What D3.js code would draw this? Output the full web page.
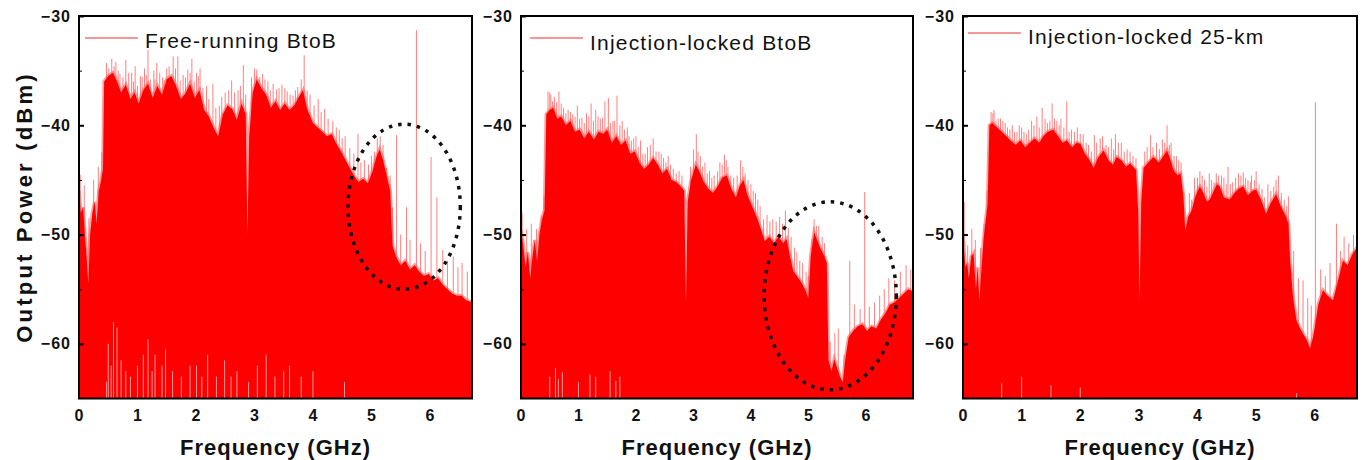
<!DOCTYPE html>
<html>
<head>
<meta charset="utf-8">
<script src="https://cdn.jsdelivr.net/npm/d3@7"></script>
<style>
body { margin: 0; background: #fff; }
text { font-family: "Liberation Sans", Arial, sans-serif; }
</style>
</head>
<body>
<svg id="chart" width="1366" height="460"></svg>
<script>
// legend labels of the three spectra
var seriesNames = ["Free-running BtoB", "Injection-locked BtoB", "Injection-locked 25-km"];

// upper edge of the solid red fill, [GHz, dBm]
var freeEnv = [[0,-46],[0.03,-48],[0.07,-47.5],[0.1,-50],[0.13,-52],[0.16,-54.5],[0.19,-50],[0.23,-48],[0.27,-47],[0.3,-49],[0.34,-46],[0.38,-45],[0.41,-44],[0.43,-36],[0.5,-35.5],[0.58,-35.2],[0.65,-36],[0.72,-37],[0.8,-36.3],[0.88,-37.6],[0.95,-37],[1.02,-38],[1.1,-36.8],[1.18,-36.2],[1.26,-37.5],[1.34,-36.4],[1.42,-37.2],[1.5,-35.8],[1.58,-35.5],[1.66,-36.4],[1.74,-37.6],[1.82,-37.1],[1.9,-36.2],[1.98,-37.5],[2.06,-36.8],[2.14,-38.6],[2.22,-39.2],[2.3,-40.2],[2.38,-41],[2.46,-39],[2.54,-38.2],[2.62,-38.5],[2.7,-39.5],[2.78,-38],[2.85,-39],[2.88,-50],[2.91,-41],[2.97,-37],[3.04,-35.8],[3.12,-36.6],[3.2,-37.2],[3.28,-38.4],[3.36,-37.8],[3.44,-38.6],[3.52,-38],[3.6,-38.6],[3.68,-38.2],[3.76,-37.4],[3.83,-36.8],[3.9,-38.5],[4.0,-39.8],[4.08,-40.2],[4.16,-40.6],[4.24,-41],[4.32,-40.8],[4.4,-41.7],[4.48,-42.4],[4.56,-43.2],[4.63,-43.9],[4.7,-44.6],[4.78,-45.2],[4.86,-44.9],[4.94,-45.3],[5.02,-44.2],[5.08,-43],[5.14,-42.2],[5.2,-43.2],[5.26,-44.6],[5.32,-46],[5.36,-51],[5.42,-52],[5.5,-52.8],[5.58,-52.4],[5.66,-53.2],[5.74,-52.8],[5.82,-53.4],[5.9,-53.8],[5.98,-53.6],[6.06,-54.2],[6.14,-54],[6.22,-54.6],[6.3,-55],[6.38,-55.4],[6.46,-55.6],[6.54,-55.6],[6.62,-56],[6.72,-56.2]];
var lockedEnv = [[0,-49.6],[0.04,-51],[0.08,-53],[0.12,-51.6],[0.16,-54],[0.2,-52],[0.24,-50.5],[0.28,-52.5],[0.32,-50],[0.37,-48.5],[0.41,-47.8],[0.44,-39],[0.5,-38.6],[0.56,-38.4],[0.63,-39.4],[0.7,-39.2],[0.78,-40],[0.86,-39.6],[0.94,-40.6],[1.02,-40.4],[1.1,-41.2],[1.18,-40.6],[1.27,-41.3],[1.35,-40.6],[1.43,-40.8],[1.5,-40.4],[1.58,-41.6],[1.66,-41],[1.74,-41.8],[1.82,-41.4],[1.9,-42.6],[1.98,-42.4],[2.06,-43.4],[2.14,-44],[2.22,-43.6],[2.3,-43],[2.38,-43.6],[2.46,-44.4],[2.54,-44],[2.62,-45],[2.7,-45.2],[2.78,-45.6],[2.84,-46],[2.87,-56.3],[2.9,-47],[2.96,-45],[3.04,-43.6],[3.1,-44.2],[3.18,-45.2],[3.26,-45.8],[3.34,-46.2],[3.42,-45.6],[3.5,-44.8],[3.58,-44.6],[3.66,-45.8],[3.74,-46.6],[3.8,-45.6],[3.87,-45],[3.94,-46.4],[4.02,-47.4],[4.1,-48.4],[4.18,-49.6],[4.24,-50.6],[4.32,-50.2],[4.4,-50.8],[4.48,-50.2],[4.56,-50.8],[4.62,-50.4],[4.68,-52],[4.74,-53.4],[4.8,-53.8],[4.88,-54.4],[4.94,-55],[5.0,-55.8],[5.04,-52],[5.1,-49.8],[5.16,-50.6],[5.22,-51.4],[5.28,-52],[5.32,-52.6],[5.35,-61.5],[5.4,-62.5],[5.45,-61.4],[5.5,-62.2],[5.55,-63],[5.6,-63.5],[5.64,-61.5],[5.7,-59.4],[5.78,-58.8],[5.86,-58.4],[5.94,-58.2],[6.02,-58.8],[6.1,-58.4],[6.18,-58.6],[6.26,-57.8],[6.34,-57.2],[6.42,-56.4],[6.5,-56.2],[6.58,-55.8],[6.66,-55.4],[6.74,-55],[6.82,-55.2]];
var fiberEnv = [[0,-50.2],[0.04,-53],[0.07,-52.6],[0.1,-54],[0.14,-52],[0.18,-51.7],[0.22,-55],[0.25,-53],[0.28,-56],[0.31,-53.5],[0.35,-50.5],[0.38,-49],[0.42,-47.2],[0.45,-40],[0.5,-39.8],[0.58,-40.2],[0.66,-40.6],[0.74,-41],[0.81,-41.4],[0.9,-41.8],[0.98,-41.4],[1.06,-42],[1.14,-41.6],[1.22,-41.2],[1.3,-41.6],[1.37,-41],[1.45,-40.6],[1.54,-40.4],[1.62,-41],[1.7,-41.6],[1.77,-41.4],[1.86,-42],[1.94,-41.6],[2.0,-41.7],[2.08,-42.6],[2.16,-43.2],[2.23,-43.9],[2.3,-43],[2.4,-42.3],[2.48,-43.2],[2.56,-43.6],[2.62,-42.9],[2.7,-43.2],[2.78,-43.8],[2.85,-43.5],[2.95,-44.1],[2.99,-48],[3.01,-56],[3.04,-47],[3.08,-43.9],[3.16,-43.4],[3.25,-42.9],[3.34,-43.4],[3.42,-42.8],[3.48,-42.3],[3.54,-43.2],[3.59,-44.1],[3.66,-44.6],[3.71,-44.4],[3.76,-46.5],[3.79,-49.6],[3.84,-48.4],[3.9,-47.8],[3.97,-46.4],[4.04,-45.6],[4.1,-46.2],[4.16,-47],[4.21,-46.8],[4.28,-46],[4.33,-45.4],[4.38,-45.6],[4.45,-46.6],[4.55,-46.8],[4.63,-46.2],[4.7,-45.8],[4.78,-45.6],[4.86,-46.4],[4.94,-46],[5.0,-45.9],[5.08,-46.8],[5.17,-48.1],[5.24,-47.2],[5.34,-46.3],[5.42,-47.4],[5.51,-48.4],[5.55,-49],[5.58,-52.4],[5.63,-55.8],[5.69,-57.9],[5.75,-58.6],[5.8,-59.1],[5.86,-59.6],[5.92,-60.4],[5.97,-59.4],[6.0,-58.5],[6.06,-56.4],[6.14,-55.1],[6.22,-55.6],[6.31,-56],[6.38,-54.6],[6.48,-52.4],[6.56,-52.8],[6.64,-51.8],[6.72,-51.2]];

// thin peaks standing above the fill, [GHz, dBm]
var freeSpikes = [[0.02,-44.5],[0.09,-45.5],[0.17,-48.5],[0.25,-45],[0.33,-43.8],[0.39,-42.5],[0.47,-34.3],[0.51,-34.8],[0.56,-33.9],[0.6,-34.6],[0.63,-34.2],[0.67,-35],[0.7,-35.3],[0.75,-35.6],[0.8,-34],[0.85,-35.2],[0.9,-35.2],[0.93,-36],[0.96,-34.6],[1.0,-36.4],[1.05,-35.5],[1.08,-35.6],[1.12,-34.8],[1.15,-35.4],[1.18,-33.1],[1.22,-35.8],[1.28,-35],[1.3,-35.8],[1.33,-34.3],[1.38,-35.2],[1.43,-35.6],[1.46,-35.9],[1.5,-34.8],[1.54,-34.6],[1.61,-33.7],[1.65,-34.8],[1.69,-33.7],[1.73,-35.9],[1.78,-35.4],[1.82,-35.6],[1.86,-34.9],[1.9,-35.2],[1.93,-33.9],[1.97,-36],[2.01,-35.2],[2.04,-35.5],[2.07,-34.8],[2.12,-36.6],[2.18,-36.4],[2.22,-37.6],[2.29,-36.2],[2.34,-38.4],[2.4,-38.2],[2.44,-37.4],[2.5,-37],[2.56,-36.8],[2.61,-35.9],[2.66,-37],[2.72,-36.8],[2.76,-36.4],[2.81,-34.5],[2.85,-37.2],[2.95,-35.6],[3.0,-34.8],[3.04,-34.9],[3.09,-35.6],[3.14,-35.3],[3.18,-35.8],[3.23,-36],[3.27,-36.8],[3.32,-36.2],[3.38,-36.7],[3.42,-36.6],[3.47,-36.3],[3.52,-36.6],[3.56,-36.9],[3.61,-37.2],[3.66,-37.3],[3.7,-36.8],[3.74,-36.5],[3.8,-35.8],[3.85,-33.6],[3.9,-36.8],[3.95,-37.2],[4.02,-38.2],[4.09,-37.6],[4.14,-38.8],[4.2,-38.5],[4.26,-39.4],[4.34,-39.6],[4.4,-40.2],[4.45,-40.4],[4.5,-41.2],[4.55,-41],[4.63,-42.1],[4.7,-42.6],[4.77,-40.8],[4.82,-43.4],[4.88,-43.2],[4.95,-43.6],[5.0,-42.8],[5.05,-42.4],[5.1,-41.2],[5.15,-41],[5.2,-41.8],[5.26,-43.9],[5.32,-44.6],[5.36,-47.5],[5.43,-40.9],[5.5,-50],[5.6,-47.5],[5.66,-50.5],[5.77,-31.3],[5.84,-50.8],[5.92,-51.5],[6.02,-42.9],[6.12,-46.6],[6.22,-51.4],[6.3,-52.4],[6.4,-52],[6.48,-53],[6.55,-52.6],[6.64,-53.4]];
var lockedSpikes = [[0.02,-48],[0.1,-49.5],[0.18,-49],[0.27,-49.5],[0.35,-48.2],[0.4,-46.5],[0.47,-36.9],[0.5,-37],[0.52,-37.2],[0.55,-37.8],[0.58,-37.4],[0.62,-37.9],[0.66,-36.9],[0.7,-38],[0.74,-38.4],[0.78,-38.9],[0.82,-38.6],[0.86,-38.8],[0.9,-39],[0.94,-39.2],[0.98,-38.2],[1.02,-39.4],[1.06,-39.3],[1.1,-39.8],[1.14,-38.9],[1.18,-39.2],[1.22,-38],[1.26,-39.6],[1.3,-38.6],[1.34,-39.2],[1.38,-39.4],[1.42,-39.3],[1.46,-37.8],[1.52,-37.5],[1.56,-39.8],[1.6,-39.6],[1.63,-39.6],[1.67,-37.3],[1.72,-40],[1.76,-39.6],[1.8,-40.4],[1.85,-40.2],[1.88,-41],[1.92,-41.4],[1.96,-41.2],[2.0,-41],[2.04,-42],[2.08,-41.4],[2.12,-42.6],[2.16,-42.6],[2.2,-42],[2.25,-41.8],[2.3,-41.2],[2.35,-42.4],[2.4,-42.4],[2.44,-42.6],[2.48,-43],[2.52,-43.4],[2.56,-42.8],[2.6,-43.6],[2.65,-44],[2.7,-44.4],[2.75,-44.2],[2.8,-44.6],[2.95,-43.8],[3.0,-42.2],[3.05,-40.8],[3.08,-42.4],[3.12,-42.8],[3.16,-43.8],[3.2,-43.4],[3.24,-44.4],[3.28,-44.2],[3.32,-44.8],[3.36,-44.6],[3.42,-44.2],[3.46,-43.4],[3.5,-43.6],[3.54,-42.7],[3.57,-43.2],[3.6,-43.8],[3.65,-44.6],[3.7,-44.8],[3.76,-44.6],[3.82,-43.2],[3.86,-43.8],[3.9,-44.4],[3.95,-45],[4.0,-45.4],[4.04,-46],[4.08,-46.2],[4.12,-46.8],[4.16,-47.4],[4.22,-48.6],[4.28,-48.2],[4.33,-48.8],[4.38,-48.6],[4.44,-48.8],[4.5,-48.4],[4.55,-49],[4.6,-47.8],[4.65,-49.4],[4.7,-50.2],[4.76,-51.2],[4.8,-51.6],[4.85,-52.4],[4.9,-52.6],[4.96,-53.4],[5.0,-53.8],[5.06,-50.4],[5.1,-48.6],[5.14,-49.2],[5.18,-49.2],[5.24,-50.2],[5.28,-50.8],[5.38,-59.8],[5.46,-59],[5.52,-58.6],[5.62,-61],[5.72,-52.4],[5.8,-56.4],[5.9,-56.8],[5.98,-46.1],[6.06,-56.6],[6.15,-56.2],[6.24,-55.6],[6.32,-55],[6.4,-54],[6.5,-54.2],[6.6,-53.4],[6.7,-52.8],[6.78,-53.2]];
var fiberSpikes = [[0.02,-47],[0.08,-51],[0.15,-49.5],[0.21,-50.5],[0.3,-51.2],[0.36,-49],[0.41,-46],[0.48,-38.8],[0.51,-38.9],[0.53,-38.6],[0.56,-39.6],[0.6,-39.4],[0.64,-39.4],[0.68,-39.6],[0.72,-39.8],[0.76,-40.2],[0.8,-40.4],[0.84,-40],[0.88,-40.6],[0.92,-40.6],[0.96,-40],[1.0,-40.2],[1.04,-40.6],[1.08,-40.8],[1.12,-40.4],[1.17,-39.6],[1.21,-40],[1.26,-39.2],[1.3,-40.2],[1.35,-38.4],[1.4,-39.4],[1.44,-39.8],[1.48,-39.6],[1.52,-38],[1.56,-39.4],[1.6,-39.6],[1.64,-40],[1.67,-39.4],[1.72,-40.2],[1.77,-37.8],[1.81,-40.6],[1.85,-40.4],[1.9,-40.6],[1.95,-40.2],[2.0,-40.8],[2.05,-40.8],[2.1,-41.6],[2.14,-41.8],[2.19,-42.4],[2.24,-40.9],[2.28,-41.6],[2.34,-41.2],[2.38,-41],[2.44,-41.8],[2.48,-42],[2.53,-41.2],[2.57,-42.2],[2.6,-40.8],[2.65,-41.6],[2.7,-41.6],[2.75,-42.4],[2.8,-42.2],[2.85,-42.4],[2.9,-42.8],[2.95,-43],[3.1,-42.4],[3.14,-42],[3.2,-40.9],[3.24,-42],[3.3,-41.6],[3.35,-42.2],[3.4,-41.3],[3.44,-41.6],[3.48,-40],[3.52,-41.8],[3.55,-41.6],[3.6,-42.8],[3.64,-42.8],[3.68,-43.2],[3.72,-43.4],[3.86,-46.2],[3.9,-46.8],[3.95,-44.8],[4.0,-44.8],[4.04,-44.2],[4.08,-44.6],[4.12,-45],[4.16,-45.6],[4.2,-44.4],[4.24,-45],[4.28,-45.2],[4.32,-44.4],[4.36,-44.6],[4.41,-44.6],[4.45,-44.8],[4.49,-45.4],[4.52,-43.8],[4.56,-45.4],[4.6,-45.2],[4.65,-44.8],[4.7,-44.4],[4.74,-44.6],[4.78,-44.3],[4.82,-44.8],[4.86,-45],[4.9,-45.2],[4.92,-44.6],[4.97,-45],[5.0,-44.2],[5.05,-45.4],[5.1,-45.8],[5.14,-46.6],[5.2,-45.4],[5.25,-46],[5.3,-45.6],[5.34,-45],[5.38,-44.6],[5.43,-46.2],[5.48,-46.8],[5.52,-47.4],[5.55,-46.5],[5.64,-51.5],[5.72,-54],[5.8,-54.2],[5.88,-55.8],[5.94,-56.5],[6.01,-37.9],[6.1,-53.2],[6.18,-53.8],[6.26,-52.6],[6.37,-49],[6.44,-51.5],[6.5,-50.2],[6.58,-50.8],[6.66,-50],[6.72,-50.2]];

// places near the floor where the trace never dips, [GHz, lowest dBm]
var freeGaps = [[0.47,-63.5],[0.5,-60],[0.55,-62],[0.59,-58],[0.65,-58.5],[0.72,-61.5],[0.8,-62.5],[0.88,-63],[1.0,-62],[1.1,-61],[1.18,-59.6],[1.25,-62.5],[1.3,-61],[1.42,-62],[1.48,-60.5],[1.6,-62.5],[1.75,-63],[1.9,-62],[2.01,-62],[2.1,-63],[2.2,-61],[2.35,-63],[2.49,-61.5],[2.6,-63],[2.7,-62.5],[2.9,-63.5],[3.05,-62],[3.2,-61],[3.35,-63],[3.5,-62.5],[3.6,-62],[3.8,-63],[4.0,-62.5],[4.54,-63.5]];
var lockedGaps = [[0.5,-63],[0.6,-62.2],[0.65,-63.2],[0.72,-62.6],[1.0,-63.5],[1.2,-62.8],[1.3,-63],[1.55,-62.5],[1.65,-63.4],[1.72,-63]];
var fiberGaps = [[0.66,-63.6],[1.0,-63],[1.5,-63.8],[2.0,-64],[5.69,-64.5]];

// dotted ellipses: [centre GHz, centre dBm, half width GHz, half height dB]
var freeMark = [5.56, -47.45, 0.96, 7.55];
var lockedMark = [5.38, -55.6, 1.15, 8.6];

var xTicks = [0, 1, 2, 3, 4, 5, 6];
var yTicks = [-30, -40, -50, -60];
var yMinorTicks = [-35, -45, -55];

var panels = [
    {env: freeEnv, spikes: freeSpikes, gaps: freeGaps, mark: freeMark, name: seriesNames[0],
     left: 79, right: 472, fmax: 6.72, lx: 85, ly: 38, ty: 48},
    {env: lockedEnv, spikes: lockedSpikes, gaps: lockedGaps, mark: lockedMark, name: seriesNames[1],
     left: 521, right: 913, fmax: 6.82, lx: 530, ly: 38, ty: 50},
    {env: fiberEnv, spikes: fiberSpikes, gaps: fiberGaps, mark: null, name: seriesNames[2],
     left: 963, right: 1357, fmax: 6.72, lx: 968, ly: 33, ty: 44}
];

var plotTop = 16, plotBottom = 398.5;
var svg = d3.select("#chart");

var y = d3.scaleLinear().domain([-65, -30]).range([plotBottom, plotTop]);

panels.forEach(function (p, i) {
    var x = d3.scaleLinear().domain([0, p.fmax]).range([p.left, p.right]);
    var g = svg.append("g");

    g.append("clipPath").attr("id", "clip" + i)
        .append("rect")
        .attr("x", p.left).attr("y", plotTop)
        .attr("width", p.right - p.left).attr("height", plotBottom - plotTop);

    var plot = g.append("g").attr("clip-path", "url(#clip" + i + ")");

    // hairline peaks, drawn first so only the part above the fill shows
    plot.selectAll(".spike").data(p.spikes).enter().append("line")
        .attr("x1", function (d) { return x(d[0]); })
        .attr("x2", function (d) { return x(d[0]); })
        .attr("y1", y(-65))
        .attr("y2", function (d) { return y(d[1]); })
        .attr("stroke", "#ff4a4a")
        .attr("stroke-opacity", 0.7)
        .attr("stroke-width", 1);

    var line = d3.line()
        .x(function (d) { return x(d[0]); })
        .y(function (d) { return y(d[1]); });

    // soft fringe along the top of the fill
    plot.append("path").datum(p.env)
        .attr("d", line)
        .attr("fill", "none")
        .attr("stroke", "#ff5a5a")
        .attr("stroke-opacity", 0.6)
        .attr("stroke-width", 3.5);

    var area = d3.area()
        .x(function (d) { return x(d[0]); })
        .y0(y(-65))
        .y1(function (d) { return y(d[1]); });

    plot.append("path").datum(p.env)
        .attr("d", area)
        .attr("fill", "#ff0000");

    plot.selectAll(".gap").data(p.gaps).enter().append("line")
        .attr("x1", function (d) { return x(d[0]); })
        .attr("x2", function (d) { return x(d[0]); })
        .attr("y1", y(-65))
        .attr("y2", function (d) { return y(d[1]); })
        .attr("stroke", "#ffffff")
        .attr("stroke-opacity", 0.75)
        .attr("stroke-width", 0.8);

    if (p.mark) {
        var m = p.mark;
        g.append("ellipse")
            .attr("cx", x(m[0]))
            .attr("cy", y(m[1]))
            .attr("rx", x(m[0] + m[2]) - x(m[0]))
            .attr("ry", y(m[1] - m[3]) - y(m[1]))
            .attr("fill", "none")
            .attr("stroke", "#111")
            .attr("stroke-width", 3.5)
            .attr("stroke-dasharray", "3.5 6");
    }

    // axes
    var yAxis = g.append("g")
        .attr("transform", "translate(" + p.left + ",0)")
        .call(d3.axisLeft(y).tickValues(yTicks).tickSize(-5).tickPadding(8).tickFormat(d3.format("d")));
    g.append("g")
        .attr("transform", "translate(" + p.left + ",0)")
        .call(d3.axisLeft(y).tickValues(yMinorTicks).tickSize(-3).tickFormat(""))
        .select(".domain").remove();

    var xAxis = g.append("g")
        .attr("transform", "translate(0," + plotBottom + ")")
        .call(d3.axisBottom(x).tickValues(xTicks).tickSize(0).tickPadding(11).tickFormat(d3.format("d")));

    [yAxis, xAxis].forEach(function (a) {
        a.select(".domain").remove();
        a.selectAll("line").attr("stroke", "#000").attr("stroke-width", 2);
        a.selectAll("text")
            .attr("fill", "#111")
            .style("font-size", "16px")
            .style("font-weight", "bold")
            .style("letter-spacing", "1px");
    });

    g.append("rect")
        .attr("x", p.left).attr("y", plotTop)
        .attr("width", p.right - p.left).attr("height", plotBottom - plotTop)
        .attr("fill", "none")
        .attr("stroke", "#000")
        .attr("stroke-width", 2);

    // legend
    g.append("line")
        .attr("x1", p.lx).attr("x2", p.lx + 53)
        .attr("y1", p.ly).attr("y2", p.ly)
        .attr("stroke", "#f07575")
        .attr("stroke-width", 1.3);
    g.append("text")
        .attr("x", p.lx + 60).attr("y", p.ty)
        .text(p.name)
        .attr("fill", "#111")
        .style("font-size", "21px")
        .style("letter-spacing", "1.2px");

    g.append("text")
        .attr("x", (p.left + p.right) / 2)
        .attr("y", 455)
        .attr("text-anchor", "middle")
        .text("Frequency (GHz)")
        .attr("fill", "#111")
        .style("font-size", "22px")
        .style("font-weight", "bold")
        .style("letter-spacing", "1px");
});

svg.append("text")
    .attr("transform", "translate(32,207) rotate(-90)")
    .attr("text-anchor", "middle")
    .text("Output Power (dBm)")
    .attr("fill", "#111")
    .style("font-size", "22px")
    .style("font-weight", "bold")
    .style("letter-spacing", "3.2px");
</script>
</body>
</html>
